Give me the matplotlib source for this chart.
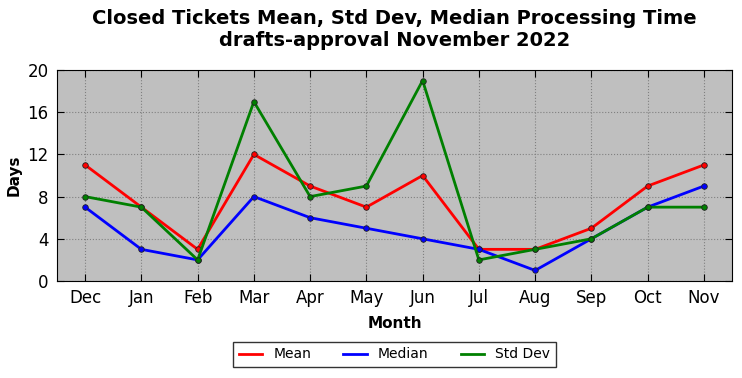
import matplotlib; matplotlib.use("Agg")
import matplotlib.pyplot as plt
from matplotlib.lines import Line2D

months = ["Dec","Jan","Feb","Mar","Apr","May","Jun","Jul","Aug","Sep","Oct","Nov"]
mean = [11, 7, 3, 12, 9, 7, 10, 3, 3, 5, 9, 11]
median = [7, 3, 2, 8, 6, 5, 4, 3, 1, 4, 7, 9]
std = [8, 7, 2, 17, 8, 9, 19, 2, 3, 4, 7, 7]

fig = plt.figure(figsize=(7.42, 3.78), dpi=100)
ax = fig.add_axes([57/742, 1-281/378, (732-57)/742, (281-70)/378])
ax.set_facecolor("#bfbfbf")
x = range(len(months))
series = [(mean, "red", "Mean"), (median, "blue", "Median"), (std, "green", "Std Dev")]
for ys, c, lab in series:
    ax.plot(x, ys, "-o", color=c, lw=2, ms=4, mec="#222", mew=0.6, label=lab)
ax.set_xlim(-0.5, 11.5); ax.set_ylim(0, 20)
ax.set_yticks(range(0, 21, 4)); ax.set_xticks(list(x)); ax.set_xticklabels(months)
ax.tick_params(direction="in", top=True, right=True, labelsize=12, length=5, pad=6)
ax.grid(True, ls=":", color="#808080", lw=0.8)
ax.set_xlabel("Month", fontsize=11, fontweight="bold", labelpad=6)
ax.set_ylabel("Days", fontsize=11, fontweight="bold")
cx = (57 + 732) / 2 / 742
fig.suptitle("Closed Tickets Mean, Std Dev, Median Processing Time\ndrafts-approval November 2022",
             fontsize=14, fontweight="bold", x=cx, y=0.975)
handles = [Line2D([], [], color=c, lw=2) for _, c, _ in series]
leg = fig.legend(handles, [s[2] for s in series], loc="lower center", ncol=3,
                 bbox_to_anchor=(cx, 0.01), fontsize=10, fancybox=False, edgecolor="black",
                 handlelength=1.7, columnspacing=2.3, borderpad=0.42)
leg.get_frame().set_linewidth(1)
fig.savefig("out.png", dpi=100)
